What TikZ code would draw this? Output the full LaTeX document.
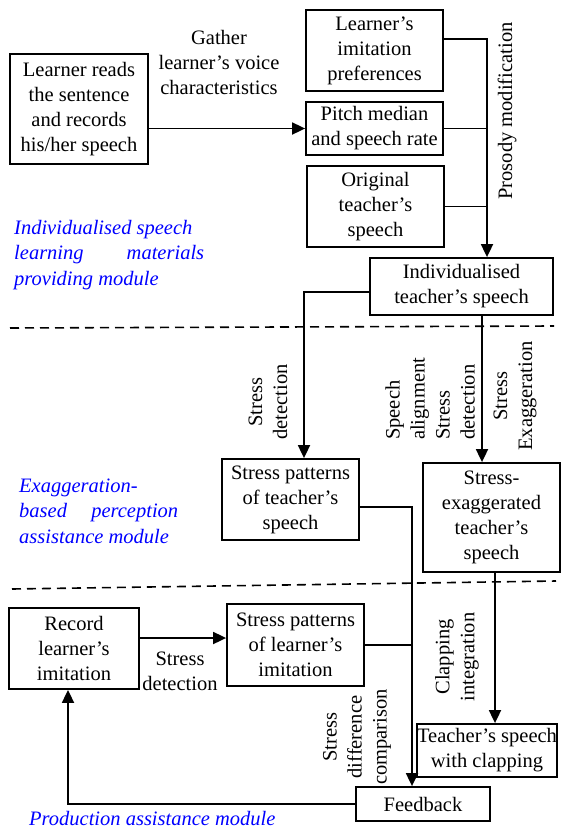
\documentclass[tikz,border=0pt]{standalone}
\usepackage{fontspec}
\setmainfont{Liberation Serif}
\usetikzlibrary{arrows.meta}
\begin{document}
\begin{tikzpicture}[x=1pt,y=-1pt,
  txt/.style={font=\fontsize{20.5}{25}\selectfont, inner sep=0pt, align=center},
  box/.style={txt, draw, line width=1.8pt},
  lnk/.style={line width=1.8pt},
  arr/.style={lnk, -{Triangle[length=13pt,width=12pt]}},
  sep/.style={line width=1.6pt, dash pattern=on 9pt off 6pt},
  mod/.style={txt, text=blue, font=\fontsize{20.5}{25.5}\selectfont\itshape, align=left}]
\path[use as bounding box] (0,0) rectangle (566,830);

% nodes
\node[box, minimum width=138pt, minimum height=110pt] (A) at (79,109) {Learner reads\\the sentence\\and records\\his/her speech};
\node[box, minimum width=137pt, minimum height=81pt] (B) at (374.5,50.5) {Learner's\\imitation\\preferences};
\node[box, minimum width=137pt, minimum height=53pt] (C) at (374.5,128.5) {Pitch median\\and speech rate};
\node[box, minimum width=137pt, minimum height=81pt] (D) at (375.5,206.5) {Original\\teacher's\\speech};
\node[box, minimum width=183pt, minimum height=57pt] (E) at (461.5,286.5) {Individualised\\teacher's speech};
\node[box, minimum width=137pt, minimum height=81pt] (F) at (290.5,499.5) {Stress patterns\\of teacher's\\speech};
\node[box, minimum width=137pt, minimum height=109pt] (G) at (491.5,517.5) {Stress-\\exaggerated\\teacher's\\speech};
\node[box, minimum width=140pt, minimum height=53pt] (H) at (487,750.5) {Teacher's speech\\with clapping};
\node[box, minimum width=130pt, minimum height=81pt] (I) at (74,648.5) {Record\\learner's\\imitation};
\node[box, minimum width=137pt, minimum height=82pt] (J) at (295.5,645) {Stress patterns\\of learner's\\imitation};
\node[box, minimum width=134pt, minimum height=34pt] (K) at (423,804) {Feedback};

% labels
\node[txt] (gather) at (219,62) {Gather\\learner's voice\\characteristics};
\node[txt, rotate=90] (prosody) at (507,111) {Prosody modification};
\node[txt, rotate=90] (sd1) at (268,402) {Stress\\detection};
\node[txt, rotate=90, anchor=west, align=left] (sasd) at (430,440) {Speech\\alignment\\Stress\\detection};
\node[txt, rotate=90] (sexag) at (515,396) {Stress\\Exaggeration};
\node[txt, rotate=90] (clapint) at (457,657) {Clapping\\integration};
\node[txt] (sd2) at (180,671) {Stress\\detection};
\node[txt, rotate=90] (sdc) at (357,737) {Stress\\difference\\comparison};

\node[mod, anchor=west] (m1) at (14,255) {Individualised speech\\\hbox to 190pt{learning\hfill materials}\\providing module};
\node[mod, anchor=west] (m2) at (19,511) {Exaggeration-\\\hbox to 159pt{based\hfill perception}\\assistance module};
\node[mod, anchor=west] (m3) at (29,818) {Production assistance module};

% separators
\coordinate (s1a) at (10,328); \coordinate (s1b) at (554,326);
\coordinate (s2a) at (12,589); \coordinate (s2b) at (556,581);
\draw[sep] (s1a) -- (s1b);
\draw[sep] (s2a) -- (s2b);

% connectors
\coordinate (vtop) at (487,39);
\draw[arr] (A.east |- C.west) -- (C.west);
\draw[arr] (B.east |- vtop) -- (vtop) -- (vtop |- E.north);
\draw[lnk] (C.east) -- (C.east -| vtop);
\draw[lnk] (D.east) -- (D.east -| vtop);

\coordinate (c1) at (304,292);
\draw[arr] (E.west |- c1) -- (c1) -- (c1 |- F.north);
\coordinate (c2) at (482,0);
\draw[arr] (E.south -| c2) -- (G.north -| c2);

\coordinate (c3) at (412,507);
\draw[arr] (F.east |- c3) -- (c3) -- (c3 |- K.north);
\coordinate (c4) at (495,0);
\draw[arr] (G.south -| c4) -- (H.north -| c4);

\coordinate (c5) at (0,638);
\draw[arr] (I.east |- c5) -- (J.west |- c5);
\draw[lnk] (J.east) -- (J.east -| c3);

\coordinate (c6) at (68,0);
\draw[arr] (K.west) -- (K.west -| c6) -- (c6 |- I.south);
\end{tikzpicture}
\end{document}
